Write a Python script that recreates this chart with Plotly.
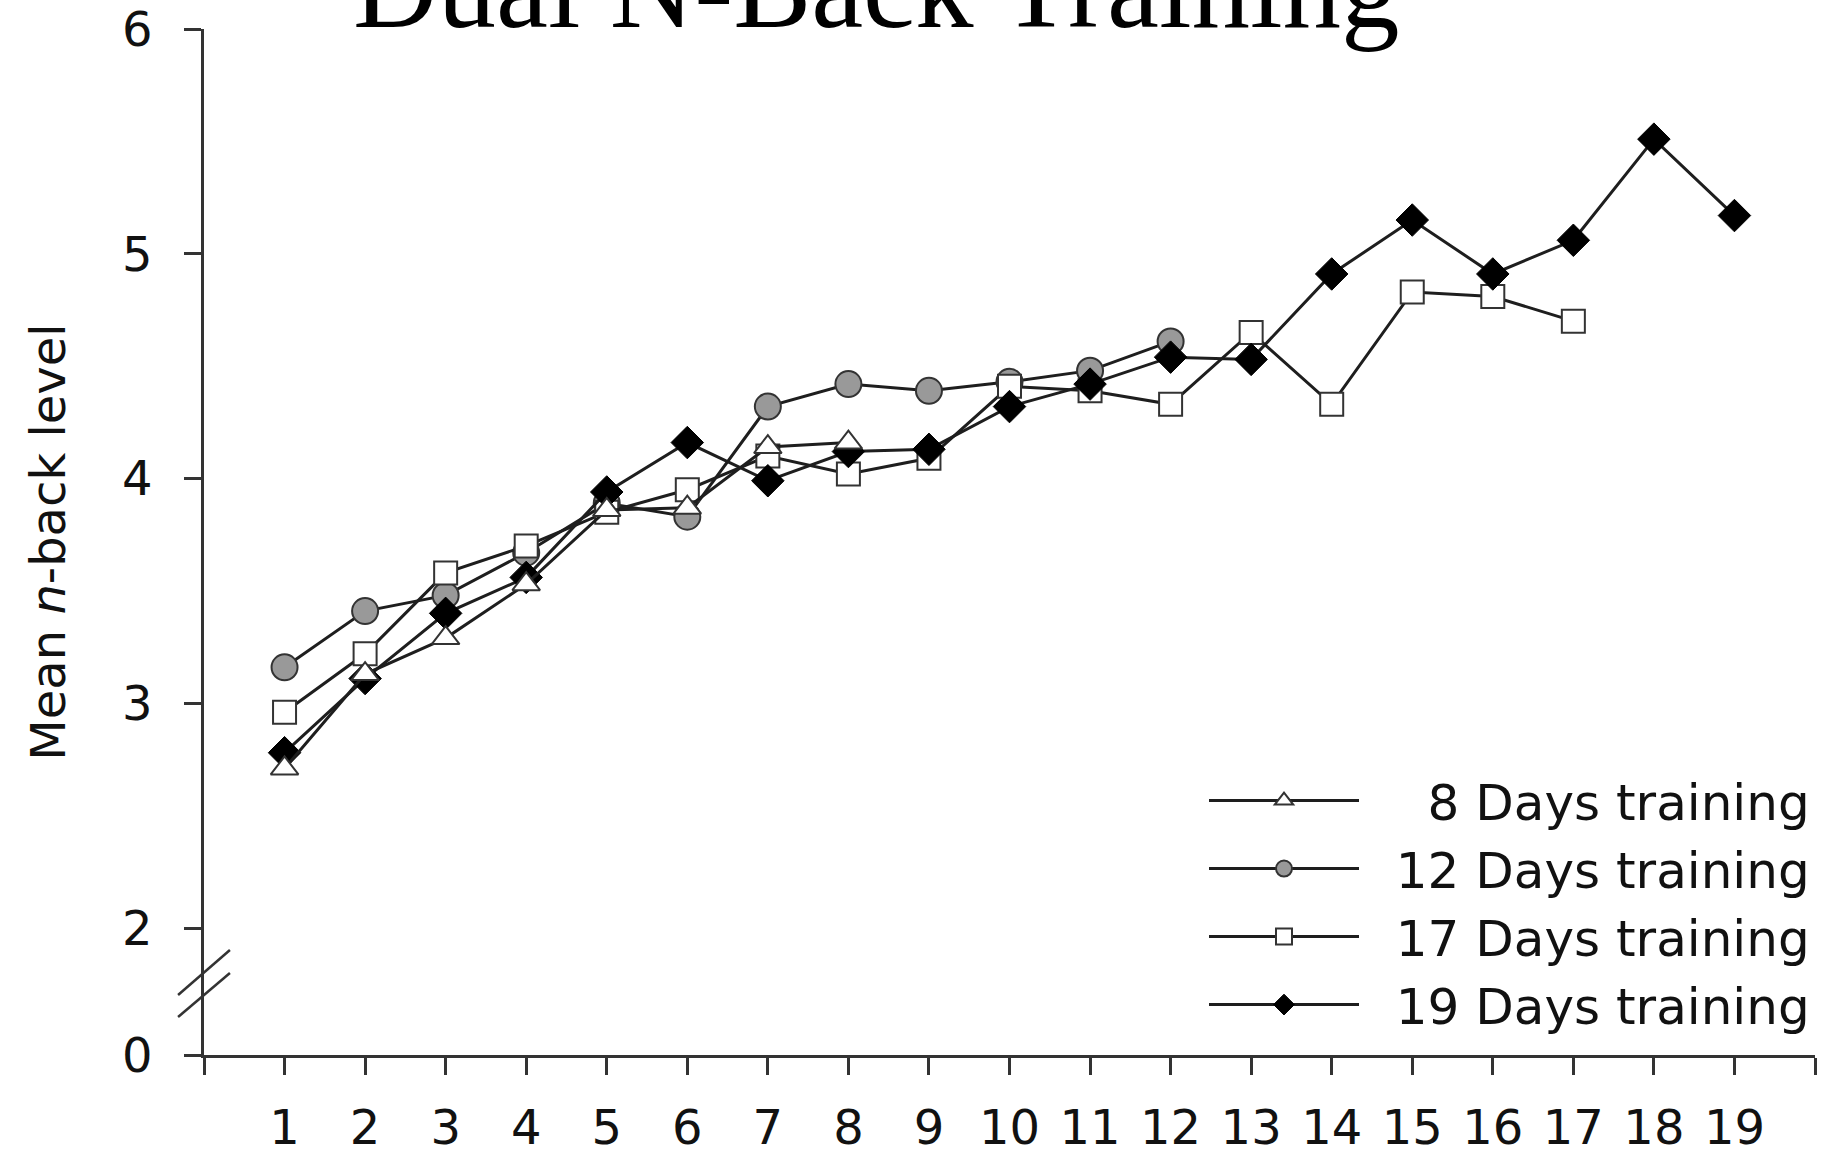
import plotly.graph_objects as go

days_8 = [1, 2, 3, 4, 5, 6, 7, 8]
vals_8 = [2.71, 3.13, 3.29, 3.53, 3.86, 3.87, 4.14, 4.16]

days_12 = list(range(1, 13))
vals_12 = [3.16, 3.41, 3.48, 3.67, 3.89, 3.83, 4.32, 4.42, 4.39, 4.43, 4.48, 4.61]

days_17 = list(range(1, 18))
vals_17 = [2.96, 3.22, 3.58, 3.70, 3.85, 3.95, 4.10, 4.02, 4.09, 4.41, 4.39, 4.33,
           4.65, 4.33, 4.83, 4.81, 4.70]

days_19 = list(range(1, 20))
vals_19 = [2.78, 3.11, 3.40, 3.56, 3.94, 4.16, 3.99, 4.12, 4.13, 4.32, 4.42, 4.54,
           4.53, 4.91, 5.15, 4.91, 5.06, 5.51, 5.17]

GAP = "\u00a0\u00a0"
names = [GAP + "\u20078 Days training", GAP + "12 Days training",
         GAP + "17 Days training", GAP + "19 Days training"]

x_tickvals = list(range(0, 21))
x_ticktext = [""] + [str(i) for i in range(1, 20)] + [""]
y_bottom = 1.435
y_tickvals = [y_bottom, 2, 3, 4, 5, 6]
y_ticktext = ["0", "2", "3", "4", "5", "6"]

LINE = "#1e1e1e"
SANS = "DejaVu Sans, Liberation Sans, Arial, sans-serif"

fig = go.Figure()

fig.add_trace(go.Scatter(
    x=days_12, y=vals_12, name=names[1], mode="lines+markers", legendrank=2,
    line=dict(color=LINE, width=3),
    marker=dict(symbol="circle", size=26, color="#999999", line=dict(color="#333333", width=2)),
))
fig.add_trace(go.Scatter(
    x=days_17, y=vals_17, name=names[2], mode="lines+markers", legendrank=3,
    line=dict(color=LINE, width=3),
    marker=dict(symbol="square", size=23, color="white", line=dict(color="#333333", width=2)),
))
fig.add_trace(go.Scatter(
    x=days_19, y=vals_19, name=names[3], mode="lines+markers", legendrank=4,
    line=dict(color=LINE, width=3),
    marker=dict(symbol="diamond", size=25, color="black", line=dict(color="black", width=1)),
))
fig.add_trace(go.Scatter(
    x=days_8, y=vals_8, name=names[0], mode="lines+markers", legendrank=1,
    line=dict(color=LINE, width=3),
    marker=dict(symbol="triangle-up", size=24, color="white", line=dict(color="#333333", width=2)),
))

# axis break marks
for y0, y1 in [(1.702, 1.902), (1.604, 1.800)]:
    fig.add_shape(type="line", xref="paper", yref="y", x0=-0.0161, x1=0.0161, y0=y0, y1=y1,
                  line=dict(color="#333333", width=2.5))

fig.add_annotation(
    text="Dual N-Back Training", xref="paper", yref="paper", x=(876 - 204) / 1611, y=1 + 41 / 1026,
    xanchor="center", yanchor="middle", showarrow=False,
    font=dict(family="Liberation Serif, Times New Roman, serif", size=117, color="black"),
)

fig.update_layout(
    width=1830, height=1155,
    margin=dict(l=204, r=15, t=29, b=100),
    paper_bgcolor="white", plot_bgcolor="white",
    font=dict(family=SANS, color="#111111"),
    showlegend=True,
    legend=dict(
        x=1, xanchor="right", y=0.286, yanchor="top",
        font=dict(size=50, family=SANS, color="#111111"),
        bgcolor="rgba(0,0,0,0)", borderwidth=0, itemwidth=150,
        tracegroupgap=0,
    ),
    xaxis=dict(
        range=[0, 20], tickvals=x_tickvals, ticktext=x_ticktext, automargin=False,
        showline=True, linecolor="#333333", linewidth=2.5, showgrid=False, zeroline=False,
        ticks="outside", ticklen=17, tickwidth=2.5, tickcolor="#333333",
        tickfont=dict(size=48, family=SANS, color="#111111"), ticklabelstandoff=12,
    ),
    yaxis=dict(
        range=[y_bottom, 6], tickvals=y_tickvals, ticktext=y_ticktext, automargin=False,
        showline=True, linecolor="#333333", linewidth=2.5, showgrid=False, zeroline=False,
        ticks="outside", ticklen=17, tickwidth=2.5, tickcolor="#333333",
        tickfont=dict(size=48, family=SANS, color="#111111"), ticklabelstandoff=22,
        title=dict(text="Mean <i>n</i>-back level", font=dict(size=48, family=SANS, color="#111111"), standoff=42),
    ),
)

fig.write_html("out.html")
